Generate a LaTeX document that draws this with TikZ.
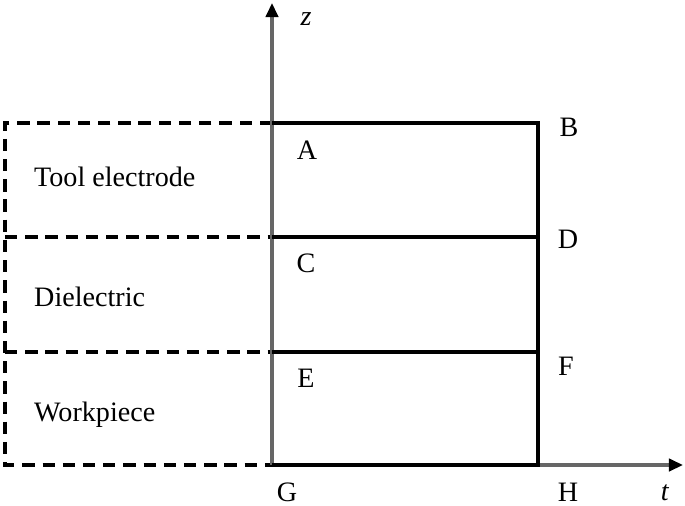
\documentclass[tikz,border=0pt]{standalone}
\usepackage{fontspec}
\setmainfont{Liberation Serif}
\usetikzlibrary{arrows.meta}

\begin{document}
\begin{tikzpicture}[x=0.02cm,y=0.02cm,
  solidline/.style={line width=2.2pt,black},
  dashline/.style={line width=2.2pt,black,dash pattern=on 7pt off 4.5pt},
  axisline/.style={line width=1.8pt,black!60,-{Triangle[length=8pt,width=7pt,black]}},
  lbl/.style={font=\fontsize{16}{19}\selectfont}]
\useasboundingbox (0,0) rectangle (685,505);
% dashed region on the left
\draw[dashline] (272,382) -- (5,382) -- (5,40) -- (272,40);
\draw[dashline] (5,268) -- (272,268);
\draw[dashline] (5,153) -- (272,153);
% axes
\draw[axisline] (272,40) -- (272,502);
\draw[axisline] (272,40) -- (683,40);
% solid domain
\draw[solidline] (272,382) -- (538,382) -- (538,38);
\draw[solidline] (272,268) -- (538,268);
\draw[solidline] (272,153) -- (538,153);
\draw[solidline] (272,40) -- (538,40);
% labels
\node[lbl] (z) at (306,486) {\textit{z}};
\node[lbl] (t) at (665,12) {\textit{t}};
\node[lbl] (A) at (307,355) {A};
\node[lbl] (B) at (569,378) {B};
\node[lbl] (C) at (306,242) {C};
\node[lbl] (D) at (568,266) {D};
\node[lbl] (E) at (306,127) {E};
\node[lbl] (F) at (566,139) {F};
\node[lbl] (G) at (287,13) {G};
\node[lbl] (H) at (568,13) {H};
\node[lbl,anchor=west] (tool) at (28,328) {Tool electrode};
\node[lbl,anchor=west] (diel) at (28,208) {Dielectric};
\node[lbl,anchor=west] (work) at (28,90) {Workpiece};
\end{tikzpicture}
\end{document}
